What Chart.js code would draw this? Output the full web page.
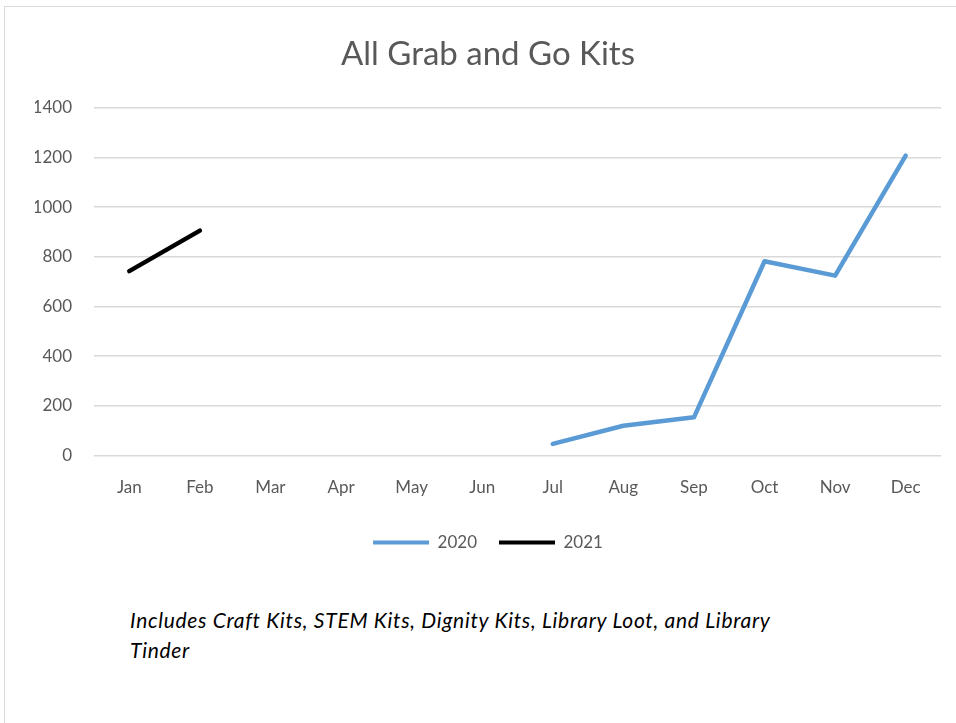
<!DOCTYPE html>
<html>
<head>
<meta charset="utf-8">
<script src="https://cdn.jsdelivr.net/npm/chart.js@4"></script>
<style>
  html, body { margin: 0; padding: 0; background: #fff; overflow: hidden; }
  .frame {
    position: absolute; left: 4px; top: 6px; width: 952px; height: 717px;
    border-top: 1px solid #d9d9d9; border-left: 1px solid #d9d9d9;
  }
  #kitsChart { position: absolute; left: 5px; top: 7px; }
  .note {
    position: absolute; left: 130px; top: 605px;
    font-family: Lato, sans-serif; font-style: italic; font-size: 21px;
    letter-spacing: 0.7px; line-height: 30px; color: #000;
  }
</style>
</head>
<body>
<div class="frame"></div>
<canvas id="kitsChart" width="975" height="554"></canvas>
<div class="note">Includes Craft Kits, STEM Kits, Dignity Kits, Library Loot, and Library<br>Tinder</div>
<script>
const months = ['Jan', 'Feb', 'Mar', 'Apr', 'May', 'Jun', 'Jul', 'Aug', 'Sep', 'Oct', 'Nov', 'Dec'];
const kits2020 = [null, null, null, null, null, null, 47, 120, 154, 782, 724, 1207];
const kits2021 = [742, 905, null, null, null, null, null, null, null, null, null, null];
const yTicks = [0, 200, 400, 600, 800, 1000, 1200, 1400];

document.addEventListener('DOMContentLoaded', () => {
  const ctx = document.getElementById('kitsChart').getContext('2d');
  const gray = '#595959';

  new Chart(ctx, {
    type: 'line',
    data: {
      labels: months,
      datasets: [
        { label: '2020', data: kits2020, borderColor: '#5b9bd5', backgroundColor: '#5b9bd5',
          borderWidth: 4.5, pointRadius: 0, borderCapStyle: 'round', borderJoinStyle: 'round', spanGaps: false },
        { label: '2021', data: kits2021, borderColor: '#000000', backgroundColor: '#000000',
          borderWidth: 4.5, pointRadius: 0, borderCapStyle: 'round', borderJoinStyle: 'round', spanGaps: false }
      ]
    },
    options: {
      responsive: false,
      animation: false,
      // wider canvas + narrow y axis so title and legend are centred like the original
      layout: { padding: { left: 30, right: 39, top: 28, bottom: 0 } },
      plugins: {
        title: {
          display: true,
          text: 'All Grab and Go Kits',
          color: gray,
          font: { family: 'Lato, sans-serif', size: 33, weight: 'normal' },
          padding: { top: 0, bottom: 33 }
        },
        legend: {
          position: 'bottom',
          labels: {
            color: gray,
            font: { family: 'Lato, sans-serif', size: 17 },
            boxWidth: 56,
            boxHeight: 4,
            padding: 22,
            generateLabels: (chart) => chart.data.datasets.map((ds, i) => ({
              text: ds.label, fillStyle: ds.borderColor, strokeStyle: ds.borderColor,
              lineWidth: 0, fontColor: gray, datasetIndex: i, hidden: false
            }))
          }
        },
        tooltip: { enabled: false }
      },
      scales: {
        x: {
          offset: true,
          grid: { display: false },
          border: { display: false },
          ticks: { color: gray, padding: 14, maxRotation: 0, font: { family: 'Lato, sans-serif', size: 17 } }
        },
        y: {
          min: 0,
          max: 1400,
          afterBuildTicks: (axis) => { axis.ticks = yTicks.map(v => ({ value: v })); },
          afterFit: (axis) => { axis.width = 59; },
          grid: { color: '#d9d9d9', lineWidth: 1.5, drawTicks: false },
          border: { display: false },
          ticks: { color: gray, padding: 22, font: { family: 'Lato, sans-serif', size: 17 },
                   callback: (v) => String(v) }
        }
      }
    }
  });
});
</script>
</body>
</html>
